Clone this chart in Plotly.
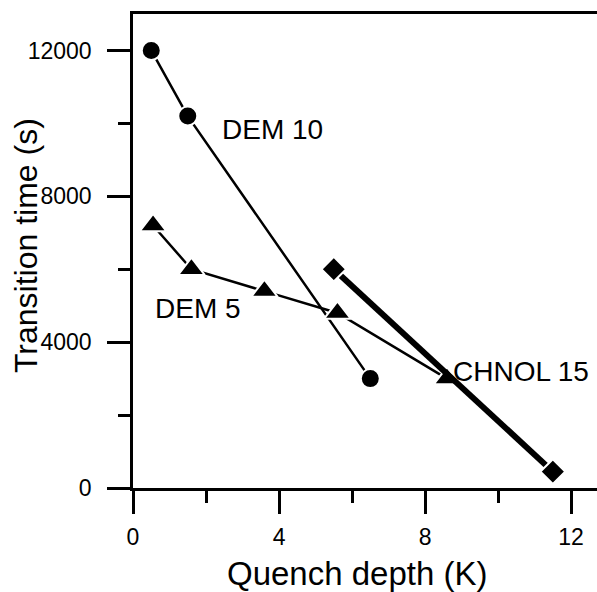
import plotly.graph_objects as go

# Quench depth (K) and transition time (s) for each sample
dem10_depth = [0.5, 1.5, 6.5]
dem10_time = [12000, 10200, 3000]

dem5_depth = [0.55, 1.6, 3.6, 5.6, 8.6]
dem5_time = [7200, 6000, 5400, 4800, 3000]

chnol15_depth = [5.5, 11.5]
chnol15_time = [6000, 450]

x_ticks = [0, 4, 8, 12]
y_ticks = [0, 4000, 8000, 12000]

FONT = "Liberation Sans, Arial, sans-serif"
W, H = 597, 592
L, R, T, B = 133, 0, 14, 104

fig = go.Figure()

fig.add_trace(go.Scatter(
    x=dem10_depth, y=dem10_time, mode="lines+markers",
    line=dict(color="black", width=2.5),
    marker=dict(symbol="circle", size=19, color="black",
                line=dict(color="white", width=2)),
    showlegend=False,
))
fig.add_trace(go.Scatter(
    x=dem5_depth, y=dem5_time, mode="lines+markers",
    line=dict(color="black", width=2.5),
    marker=dict(symbol="triangle-up", size=23, color="black",
                line=dict(color="white", width=2)),
    showlegend=False,
))
fig.add_trace(go.Scatter(
    x=chnol15_depth, y=chnol15_time, mode="lines+markers",
    line=dict(color="black", width=6),
    marker=dict(symbol="diamond", size=19, color="black",
                line=dict(color="white", width=2)),
    showlegend=False,
))

# Series labels
labels = [("DEM 10", 3.81, 9830), ("DEM 5", 1.78, 4910), ("CHNOL 15", 10.63, 3190)]
annotations = [
    dict(text=t, x=x, y=y, xref="x", yref="y", showarrow=False,
         xanchor="center", yanchor="middle",
         font=dict(family=FONT, size=28, color="black"))
    for t, x, y in labels
]

# Axis titles
annotations.append(dict(
    text="Quench depth (K)", xref="paper", yref="paper",
    x=(357 - L) / (W - L - R), y=-(573 - (H - B)) / (H - T - B),
    showarrow=False, xanchor="center", yanchor="middle",
    font=dict(family=FONT, size=33, color="black"),
))
annotations.append(dict(
    text="Transition time (s)", xref="paper", yref="paper",
    x=-(L - 26) / (W - L - R), y=(H - B - 246) / (H - T - B), textangle=-90,
    showarrow=False, xanchor="center", yanchor="middle",
    font=dict(family=FONT, size=32, color="black"),
))

fig.update_layout(
    width=W, height=H,
    margin=dict(l=L, r=R, t=T, b=B, pad=0),
    paper_bgcolor="white", plot_bgcolor="white",
    font=dict(family=FONT, color="black"),
    annotations=annotations,
)

fig.update_xaxes(
    range=[0, 12.71], showgrid=False, zeroline=False,
    showline=True, linecolor="black", linewidth=2.5, mirror=True,
    tickmode="array", tickvals=x_ticks, ticktext=[str(v) for v in x_ticks],
    ticks="outside", ticklen=23, tickwidth=2.5, tickcolor="black",
    minor=dict(dtick=2, tick0=0, ticks="outside", ticklen=12,
               tickwidth=2.5, tickcolor="black", showgrid=False),
    tickfont=dict(family=FONT, size=23, color="black"),
    ticklabelstandoff=4,
)
fig.update_yaxes(
    range=[0, 13000], showgrid=False, zeroline=False,
    showline=True, linecolor="black", linewidth=2.5, mirror=False,
    tickmode="array", tickvals=y_ticks, ticktext=[str(v) for v in y_ticks],
    ticks="outside", ticklen=23, tickwidth=2.5, tickcolor="black",
    minor=dict(dtick=2000, tick0=0, ticks="outside", ticklen=12,
               tickwidth=2.5, tickcolor="black", showgrid=False),
    tickfont=dict(family=FONT, size=23, color="black"),
    ticklabelstandoff=11,
)

fig.write_html("out.html")
